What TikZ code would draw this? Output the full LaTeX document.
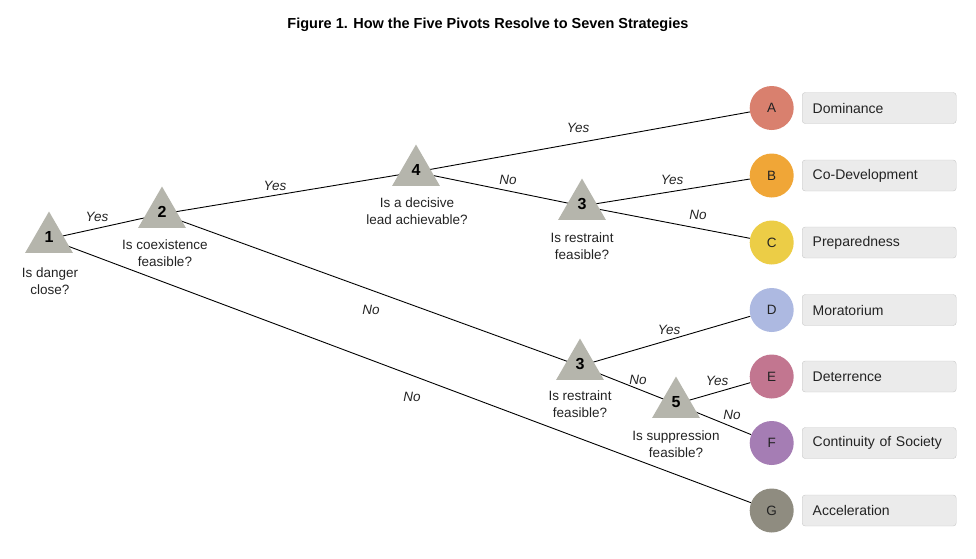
\documentclass[tikz,border=0pt]{standalone}
\usepackage{fontspec}
\setmainfont{Liberation Sans}
\usepackage{tikz}
\usetikzlibrary{shapes.geometric,backgrounds}

\definecolor{trigray}{RGB}{181,181,172}
\definecolor{boxfill}{RGB}{235,235,235}
\definecolor{boxline}{RGB}{200,200,200}
\definecolor{txt}{RGB}{35,35,35}
\definecolor{colA}{RGB}{217,128,110}
\definecolor{colB}{RGB}{240,166,55}
\definecolor{colC}{RGB}{236,205,70}
\definecolor{colD}{RGB}{173,185,225}
\definecolor{colE}{RGB}{194,118,144}
\definecolor{colF}{RGB}{165,125,180}
\definecolor{colG}{RGB}{143,140,128}

\begin{document}
\begin{tikzpicture}[x=1pt,y=-1pt,
    pivot/.style={regular polygon, regular polygon sides=3, minimum size=55pt, inner sep=0pt, fill=trigray, font=\fontsize{16}{16}\selectfont\bfseries, text=black},
    strat/.style={circle, minimum size=44pt, inner sep=0pt, font=\fontsize{13.5}{16}\selectfont, text=txt},
    stratbox/.style={rectangle, rounded corners=3pt, draw=boxline, fill=boxfill, minimum height=31pt, text width=133pt, inner xsep=10.5pt, align=left, anchor=west, font=\fontsize{14}{16}\selectfont, text=txt},
    question/.style={align=center, font=\fontsize{13.5}{17}\selectfont, text=txt},
    answer/.style={font=\fontsize{13.5}{16}\selectfont\itshape, text=txt},
    branch/.style={line width=0.9pt, black}]

  % Variables
  \def \circx {771.7}
  \def \boxx  {802}

  \useasboundingbox (0,0) rectangle (976,558);

  % Title
  \node[font=\fontsize{14.5}{16}\selectfont\bfseries, text=black] (title) at (488,25) {Figure 1. How the Five Pivots Resolve to Seven Strategies};

  % Pivots
  \node[pivot] (p1) at (49,239) {\raisebox{4pt}{1}};
  \node[pivot] (p2) at (162,214) {\raisebox{4pt}{2}};
  \node[pivot] (p4) at (416,172) {\raisebox{4pt}{4}};
  \node[pivot] (p3a) at (582,206) {\raisebox{4pt}{3}};
  \node[pivot] (p3b) at (580,366) {\raisebox{4pt}{3}};
  \node[pivot] (p5) at (676,404) {\raisebox{4pt}{5}};

  % Questions
  \node[question] (q1) at (50,281) {Is danger\\close?};
  \node[question] (q2) at (165,253) {Is coexistence\\feasible?};
  \node[question] (q4) at (417,211) {Is a decisive\\lead achievable?};
  \node[question] (q3a) at (582,246.5) {Is restraint\\feasible?};
  \node[question] (q3b) at (580,404.5) {Is restraint\\feasible?};
  \node[question] (q5) at (676,444) {Is suppression\\feasible?};

  % Strategies
  \node[strat, fill=colA] (A) at (\circx,108) {A};
  \node[strat, fill=colB] (B) at (\circx,175.5) {B};
  \node[strat, fill=colC] (C) at (\circx,242.5) {C};
  \node[strat, fill=colD] (D) at (\circx,310) {D};
  \node[strat, fill=colE] (E) at (\circx,376.5) {E};
  \node[strat, fill=colF] (F) at (\circx,443) {F};
  \node[strat, fill=colG] (G) at (\circx,510.5) {G};

  \node[stratbox] (bA) at (\boxx,108) {Dominance};
  \node[stratbox] (bB) at (\boxx,175.5) {Co-Development};
  \node[stratbox] (bC) at (\boxx,242.5) {Preparedness};
  \node[stratbox] (bD) at (\boxx,310) {Moratorium};
  \node[stratbox] (bE) at (\boxx,376.5) {Deterrence};
  \node[stratbox] (bF) at (\boxx,443) {Continuity of Society};
  \node[stratbox] (bG) at (\boxx,510.5) {Acceleration};

  % Branches
  \begin{scope}[on background layer]
    \draw[branch] (p1.center) -- (p2.center);
    \draw[branch] (p2.center) -- (p4.center);
    \draw[branch] (p4.center) -- (A);
    \draw[branch] (p4.center) -- (p3a.center);
    \draw[branch] (p3a.center) -- (B);
    \draw[branch] (p3a.center) -- (C);
    \draw[branch] (p2.center) -- (p3b.center);
    \draw[branch] (p3b.center) -- (D);
    \draw[branch] (p3b.center) -- (p5.center);
    \draw[branch] (p5.center) -- (E);
    \draw[branch] (p5.center) -- (F);
    \draw[branch] (p1.center) -- (G);
  \end{scope}

  % Answers
  \node[answer] (a12) at (97,217) {Yes};
  \node[answer] (a24) at (275,185.5) {Yes};
  \node[answer] (a4A) at (578,128) {Yes};
  \node[answer] (a43) at (508,179.5) {No};
  \node[answer] (a3B) at (672,180) {Yes};
  \node[answer] (a3C) at (698,214.5) {No};
  \node[answer] (a23) at (371,309.5) {No};
  \node[answer] (a1G) at (412,396.5) {No};
  \node[answer] (a3D) at (669,329.5) {Yes};
  \node[answer] (a35) at (638,380) {No};
  \node[answer] (a5E) at (717,381) {Yes};
  \node[answer] (a5F) at (732,414.5) {No};

\end{tikzpicture}
\end{document}
